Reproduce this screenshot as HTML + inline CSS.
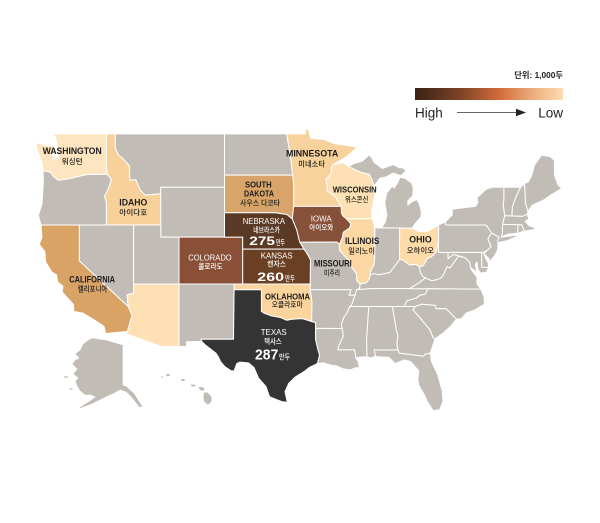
<!DOCTYPE html>
<html><head><meta charset="utf-8">
<style>
html,body{margin:0;padding:0;background:#fff;width:600px;height:523px;overflow:hidden}
svg{display:block}
text{font-family:"Liberation Sans","Noto Sans CJK KR",sans-serif}
.k{font-size:7.6px;font-weight:500}
.e{font-weight:700}
.n{font-weight:400}
.d{fill:#1c1c1c}
.w{fill:#ffffff}
</style></head><body>
<svg id="m" width="600" height="523" viewBox="0 0 600 523" xmlns="http://www.w3.org/2000/svg">
<defs>
<linearGradient id="g" x1="0" x2="1" y1="0" y2="0">
<stop offset="0" stop-color="#3a2214"/>
<stop offset="0.3" stop-color="#7b4226"/>
<stop offset="0.57" stop-color="#d26c3a"/>
<stop offset="0.8" stop-color="#ecae7e"/>
<stop offset="1" stop-color="#fcddb0"/>
</linearGradient>
</defs>
<g id="st" stroke="#fff" stroke-width="1" stroke-linejoin="round"></g>
<g fill="#c2bcb6" stroke="#fff" stroke-width="0.6">
<path d="M88,340L92,338L106,340L123,345L123,385L126,386L134,393L143,407L139,407L132,398L126,392L120,390L115,393L108,396L100,400L92,404L84,407L79,409L80,407L88,402L95,397L91,395L85,395L80,391L77,386L75,381L78,378L73,374L77,369L72,364L75,360L79,358L75,354L80,350L83,344Z"/>
<ellipse cx="66" cy="377" rx="2.5" ry="1"/>
<ellipse cx="71" cy="389" rx="2" ry="1"/>
<ellipse cx="162" cy="377" rx="1.3" ry="1"/>
<ellipse cx="168" cy="375" rx="2" ry="1.6"/>
<ellipse cx="183" cy="380" rx="2.2" ry="1.4"/>
<path d="M190,384L195,384.5L197,386L192,387Z"/>
<path d="M198,387L202,386.5L205,388.5L204,391L200,390.5Z"/>
<path d="M204,392L208,392.5L212,397L211.5,402L208,405L204,402L203,397Z"/>
</g>

<!-- legend -->
<text x="563" y="78" text-anchor="end" font-size="8.3" font-weight="700" fill="#222">단위: 1,000두</text>
<rect x="415" y="88" width="148" height="12" fill="url(#g)"/>
<text x="415" y="117.5" font-size="13.5" fill="#222">High</text>
<text x="563" y="117.5" text-anchor="end" font-size="13.5" fill="#222">Low</text>
<line x1="457" y1="112.5" x2="517" y2="112.5" stroke="#333" stroke-width="0.8"/>
<path d="M516,108.7L526,112.5L516,116.3Z" fill="#222"/>

<!-- dark labels -->
<text class="e d" x="42.7" y="154" font-size="9" textLength="59" lengthAdjust="spacingAndGlyphs">WASHINGTON</text>
<text class="k d" x="61.7" y="164.2" textLength="21" lengthAdjust="spacingAndGlyphs">워싱턴</text>
<text class="e d" x="119.3" y="205.7" font-size="9" textLength="28" lengthAdjust="spacingAndGlyphs">IDAHO</text>
<text class="k d" x="119.3" y="215" textLength="28" lengthAdjust="spacingAndGlyphs">아이다호</text>
<text class="e d" x="286" y="156.7" font-size="9" textLength="52.3" lengthAdjust="spacingAndGlyphs">MINNESOTA</text>
<text class="k d" x="298.3" y="166.5" textLength="26.7" lengthAdjust="spacingAndGlyphs">미네소타</text>
<text class="e d" x="332.7" y="192.7" font-size="8" textLength="44" lengthAdjust="spacingAndGlyphs">WISCONSIN</text>
<text class="k d" x="345" y="202" textLength="23.3" lengthAdjust="spacingAndGlyphs">위스콘신</text>
<text class="e d" x="245" y="187.3" font-size="7.8" textLength="26.7" lengthAdjust="spacingAndGlyphs">SOUTH</text>
<text class="e d" x="244" y="196.7" font-size="7.8" textLength="30" lengthAdjust="spacingAndGlyphs">DAKOTA</text>
<text class="k d" x="240" y="205.5" textLength="40" lengthAdjust="spacingAndGlyphs">사우스 다코타</text>
<text class="e d" x="345" y="244" font-size="9" textLength="34.3" lengthAdjust="spacingAndGlyphs">ILLINOIS</text>
<text class="k d" x="348.3" y="253.3" textLength="26.7" lengthAdjust="spacingAndGlyphs">일리노이</text>
<text class="e d" x="409.3" y="242.7" font-size="9" textLength="22.4" lengthAdjust="spacingAndGlyphs">OHIO</text>
<text class="k d" x="406.7" y="252.8" textLength="27.3" lengthAdjust="spacingAndGlyphs">오하이오</text>
<text class="e d" x="314" y="266.7" font-size="8.8" textLength="37.7" lengthAdjust="spacingAndGlyphs">MISSOURI</text>
<text class="k d" x="324" y="275.3" textLength="16" lengthAdjust="spacingAndGlyphs">미주리</text>
<text class="e d" x="265" y="299.3" font-size="8.4" textLength="45" lengthAdjust="spacingAndGlyphs">OKLAHOMA</text>
<text class="k d" x="271.7" y="306.8" textLength="31" lengthAdjust="spacingAndGlyphs">오클라호마</text>
<text class="e d" x="69.3" y="282.3" font-size="8.8" textLength="45.7" lengthAdjust="spacingAndGlyphs">CALIFORNIA</text>
<text class="k d" x="77.7" y="291.3" textLength="29.6" lengthAdjust="spacingAndGlyphs">캘리포니아</text>

<!-- white labels -->
<text class="n w" x="242.7" y="224" font-size="8" textLength="42.3" lengthAdjust="spacingAndGlyphs">NEBRASKA</text>
<text class="k w" x="253.3" y="232.3" textLength="26.7" lengthAdjust="spacingAndGlyphs">네브라스카</text>
<text class="e w" x="249.3" y="245" font-size="12" textLength="25.7" lengthAdjust="spacingAndGlyphs">275</text>
<text class="k w" x="276" y="245" font-size="7" textLength="9" lengthAdjust="spacingAndGlyphs">만두</text>
<text class="n w" x="310.7" y="221.7" font-size="8" textLength="21" lengthAdjust="spacingAndGlyphs">IOWA</text>
<text class="k w" x="309.3" y="230" textLength="24" lengthAdjust="spacingAndGlyphs">아이오와</text>
<text class="n w" x="188.3" y="260.7" font-size="8" textLength="43.4" lengthAdjust="spacingAndGlyphs">COLORADO</text>
<text class="k w" x="198.3" y="268.8" textLength="24.4" lengthAdjust="spacingAndGlyphs">콜로라도</text>
<text class="n w" x="260.7" y="258.3" font-size="8" textLength="32" lengthAdjust="spacingAndGlyphs">KANSAS</text>
<text class="k w" x="267.3" y="266.3" textLength="18.7" lengthAdjust="spacingAndGlyphs">캔자스</text>
<text class="e w" x="257.3" y="281" font-size="12" textLength="26.7" lengthAdjust="spacingAndGlyphs">260</text>
<text class="k w" x="285" y="281" font-size="7" textLength="10" lengthAdjust="spacingAndGlyphs">만두</text>
<text class="n w" x="260.7" y="335" font-size="8" textLength="26" lengthAdjust="spacingAndGlyphs">TEXAS</text>
<text class="k w" x="264.3" y="343.8" textLength="17.4" lengthAdjust="spacingAndGlyphs">텍사스</text>
<text class="e w" x="255" y="359.3" font-size="15" textLength="23.3" lengthAdjust="spacingAndGlyphs">287</text>
<text class="k w" x="279" y="359.3" font-size="7.8" textLength="11" lengthAdjust="spacingAndGlyphs">만두</text>
</svg>
<script>
(function(){
var X=function(l){return 224.5+9.1*(l+104.05);};
var Y=function(p){return 284-521.4*(Math.log(Math.tan(Math.PI/4+p*Math.PI/360))-0.696);};
var G='#c2bcb6';
var S=[
['#fde5bf',[[-124.72,48.38],[-123.6,48.15],[-122.75,48.1],[-122.95,47.1],[-122.35,47.3],[-122.4,48.0],[-122.6,48.75],[-123.0,49.0],[-117.03,49.0],[-117.03,46.42],[-116.92,46.0],[-118.98,46.0],[-119.6,45.92],[-121.2,45.65],[-122.3,45.55],[-122.8,45.8],[-123.2,46.18],[-124.0,46.27],[-124.1,46.9],[-124.7,47.9]]],
[G,[[-124.0,46.27],[-123.2,46.18],[-122.8,45.8],[-122.3,45.55],[-121.2,45.65],[-119.6,45.92],[-118.98,46.0],[-116.92,46.0],[-116.48,45.6],[-116.8,44.9],[-117.23,44.3],[-117.03,43.8],[-117.03,42.0],[-120.0,42.0],[-124.21,42.0],[-124.5,42.8],[-124.1,43.7],[-123.95,45.5]]],
['#d9a366',[[-124.21,42.0],[-120.0,42.0],[-120.0,39.0],[-114.63,35.0],[-114.2,34.2],[-114.72,32.72],[-117.12,32.53],[-117.3,33.2],[-118.3,33.75],[-118.9,34.05],[-119.6,34.4],[-120.6,34.55],[-120.65,35.2],[-121.9,36.3],[-121.8,36.8],[-122.4,37.2],[-122.5,37.8],[-123.0,38.0],[-123.7,38.9],[-123.8,39.8],[-124.4,40.4],[-124.1,41.0]]],
[G,[[-120.0,42.0],[-114.04,42.0],[-114.04,36.2],[-114.75,36.05],[-114.63,35.0],[-120.0,39.0]]],
['#f8d09a',[[-117.03,49.0],[-116.05,49.0],[-116.05,47.98],[-115.7,47.45],[-115.3,47.25],[-114.5,46.65],[-114.45,45.55],[-113.8,45.6],[-113.3,44.8],[-112.8,44.4],[-111.05,44.5],[-111.05,42.0],[-117.03,42.0],[-117.03,43.8],[-117.23,44.3],[-116.8,44.9],[-116.48,45.6],[-116.92,46.0],[-117.03,46.42]]],
[G,[[-116.05,49.0],[-104.05,49.0],[-104.05,45.0],[-111.05,45.0],[-111.05,44.5],[-112.8,44.4],[-113.3,44.8],[-113.8,45.6],[-114.45,45.55],[-114.5,46.65],[-115.3,47.25],[-115.7,47.45],[-116.05,47.98]]],
[G,[[-111.05,45.0],[-104.05,45.0],[-104.05,41.0],[-111.05,41.0]]],
[G,[[-114.04,42.0],[-111.05,42.0],[-111.05,41.0],[-109.05,41.0],[-109.05,37.0],[-114.04,37.0]]],
['#fde0b4',[[-114.04,37.0],[-109.05,37.0],[-109.05,31.33],[-111.07,31.33],[-114.82,32.5],[-114.72,32.72],[-114.2,34.2],[-114.63,35.0],[-114.75,36.05],[-114.04,36.2]]],
['#8a4f37',[[-109.05,41.0],[-102.05,41.0],[-102.05,37.0],[-109.05,37.0]]],
[G,[[-109.05,37.0],[-103.0,37.0],[-103.0,36.5],[-103.06,32.0],[-106.62,32.0],[-106.53,31.78],[-108.21,31.78],[-108.21,31.33],[-109.05,31.33]]],
[G,[[-104.05,49.0],[-97.23,49.0],[-96.85,47.6],[-96.56,45.94],[-104.05,45.94]]],
['#d9a46a',[[-104.05,45.94],[-96.56,45.94],[-96.45,45.3],[-96.45,43.5],[-96.6,42.5],[-97.2,42.85],[-98.5,43.0],[-104.05,43.0]]],
['#5b3a25',[[-104.05,43.0],[-98.5,43.0],[-97.2,42.85],[-96.6,42.5],[-96.1,41.6],[-95.85,40.8],[-95.3,40.0],[-102.05,40.0],[-102.05,41.0],[-104.05,41.0]]],
['#6b3f23',[[-102.05,40.0],[-95.3,40.0],[-94.95,39.6],[-94.6,39.1],[-94.62,37.0],[-102.05,37.0]]],
['#fbd59d',[[-103.0,37.0],[-94.62,37.0],[-94.62,36.5],[-94.43,35.4],[-94.48,33.64],[-95.5,33.9],[-96.6,33.85],[-97.2,33.75],[-97.9,34.0],[-98.9,34.15],[-99.7,34.4],[-100.0,34.56],[-100.0,36.5],[-103.0,36.5]]],
['#343434',[[-103.0,36.5],[-100.0,36.5],[-100.0,34.56],[-99.7,34.4],[-98.9,34.15],[-97.9,34.0],[-97.2,33.75],[-96.6,33.85],[-95.5,33.9],[-94.48,33.64],[-94.04,33.55],[-94.04,32.0],[-93.83,31.2],[-93.6,30.5],[-93.84,29.7],[-94.7,29.35],[-95.2,29.0],[-96.3,28.4],[-97.0,27.8],[-97.4,27.0],[-97.15,25.95],[-97.7,26.0],[-98.3,26.2],[-99.1,26.5],[-99.5,27.5],[-100.3,28.3],[-100.8,29.3],[-101.4,29.77],[-102.35,29.85],[-102.7,29.7],[-103.0,29.0],[-103.3,29.0],[-104.0,29.4],[-104.5,29.9],[-104.7,30.3],[-105.0,30.7],[-105.6,31.1],[-106.2,31.5],[-106.53,31.78],[-106.62,32.0],[-103.06,32.0]]],
['#f8d29c',[[-97.23,49.0],[-95.15,49.0],[-95.15,49.38],[-94.8,49.3],[-94.6,48.7],[-93.1,48.6],[-92.0,48.3],[-90.0,48.1],[-89.5,48.0],[-90.7,47.3],[-92.1,46.75],[-92.3,46.5],[-92.3,46.1],[-92.9,45.6],[-92.75,45.1],[-92.8,44.75],[-91.9,44.3],[-91.22,43.5],[-96.45,43.5],[-96.45,45.3],[-96.56,45.94],[-96.85,47.6]]],
['#875038',[[-96.45,43.5],[-91.22,43.5],[-91.2,43.0],[-91.05,42.75],[-90.65,42.5],[-90.15,42.1],[-90.3,41.75],[-91.0,41.4],[-91.1,40.95],[-91.42,40.38],[-91.7,40.6],[-95.77,40.58],[-95.85,40.8],[-96.1,41.6],[-96.6,42.5]]],
[G,[[-95.77,40.58],[-91.7,40.6],[-91.42,40.38],[-91.4,39.9],[-90.7,39.3],[-90.15,38.85],[-90.2,38.6],[-89.55,37.9],[-89.5,37.3],[-89.15,37.0],[-89.2,36.6],[-89.53,36.5],[-89.7,36.0],[-90.37,36.0],[-90.15,36.5],[-94.62,36.5],[-94.62,37.0],[-94.6,39.1],[-94.95,39.6],[-95.3,40.0]]],
['#fde0b3',[[-91.22,43.5],[-91.9,44.3],[-92.8,44.75],[-92.75,45.1],[-92.9,45.6],[-92.3,46.1],[-92.3,46.5],[-92.1,46.75],[-91.0,46.9],[-90.4,46.58],[-89.0,46.15],[-88.1,46.0],[-87.8,45.5],[-87.6,45.1],[-88.0,44.55],[-87.6,44.85],[-87.0,45.3],[-87.45,44.6],[-87.7,43.9],[-87.9,43.0],[-87.8,42.5],[-90.65,42.5],[-91.05,42.75],[-91.2,43.0]]],
['#fbd8a3',[[-90.65,42.5],[-87.8,42.5],[-87.55,41.7],[-87.53,39.35],[-87.6,38.7],[-87.9,38.3],[-88.05,37.8],[-88.1,37.5],[-88.45,37.1],[-89.15,37.0],[-89.5,37.3],[-89.55,37.9],[-90.2,38.6],[-90.15,38.85],[-90.7,39.3],[-91.4,39.9],[-91.42,40.38],[-91.1,40.95],[-91.0,41.4],[-90.3,41.75],[-90.15,42.1]]],
[G,[[-87.53,41.76],[-84.8,41.76],[-84.82,39.1],[-85.2,38.7],[-85.9,38.0],[-86.5,37.9],[-87.1,37.8],[-87.6,37.9],[-88.05,37.8],[-87.9,38.3],[-87.6,38.7],[-87.53,39.35]]],
['#fddcaa',[[-84.8,41.76],[-83.45,41.73],[-82.7,41.45],[-81.7,41.5],[-80.52,41.98],[-80.52,40.64],[-80.6,40.4],[-80.8,39.75],[-81.3,39.35],[-81.75,39.2],[-82.2,38.6],[-82.6,38.45],[-83.0,38.7],[-83.7,38.65],[-84.3,38.98],[-84.5,39.1],[-84.82,39.1]]],
[G,[[-86.8,41.76],[-84.8,41.76],[-83.45,41.73],[-83.1,42.1],[-82.5,42.6],[-82.4,43.0],[-82.6,43.6],[-82.9,44.05],[-83.4,43.9],[-83.9,43.6],[-83.9,43.95],[-83.35,44.35],[-83.3,45.0],[-83.5,45.35],[-84.2,45.7],[-84.75,45.78],[-85.0,45.4],[-85.4,44.95],[-85.6,45.1],[-86.2,44.6],[-86.45,43.8],[-86.2,42.8],[-86.4,42.2]]],
[G,[[-90.4,46.58],[-89.9,46.8],[-88.9,47.0],[-88.2,47.45],[-87.9,47.3],[-87.6,46.9],[-86.7,46.45],[-85.5,46.75],[-84.8,46.5],[-84.4,46.5],[-84.1,46.25],[-84.7,45.9],[-85.5,46.1],[-86.3,45.8],[-87.0,45.7],[-87.6,45.1],[-87.8,45.5],[-88.1,46.0],[-89.0,46.15]]],
[G,[[-89.53,36.5],[-89.2,36.6],[-89.15,37.0],[-88.45,37.1],[-88.1,37.5],[-88.05,37.8],[-87.6,37.9],[-87.1,37.8],[-86.5,37.9],[-85.9,38.0],[-85.2,38.7],[-84.82,39.1],[-84.5,39.1],[-84.3,38.98],[-83.7,38.65],[-83.0,38.7],[-82.6,38.45],[-82.6,38.2],[-82.3,37.7],[-81.97,37.54],[-82.5,37.2],[-83.68,36.6],[-88.05,36.6]]],
[G,[[-89.53,36.5],[-88.05,36.6],[-83.68,36.6],[-81.68,36.59],[-82.0,36.1],[-82.6,36.0],[-83.0,35.75],[-84.0,35.5],[-84.32,35.0],[-90.3,35.0],[-90.1,35.1],[-89.9,35.6],[-89.7,36.0]]],
[G,[[-83.68,36.6],[-81.68,36.59],[-75.87,36.55],[-76.3,37.0],[-76.3,37.6],[-76.9,38.2],[-77.0,38.4],[-77.1,38.9],[-77.5,39.2],[-77.75,39.32],[-78.35,39.4],[-78.8,38.9],[-79.3,38.4],[-79.6,38.5],[-80.0,37.8],[-80.3,37.5],[-80.9,37.35],[-81.3,37.3],[-81.97,37.54],[-82.5,37.2]]],
[G,[[-81.97,37.54],[-82.3,37.7],[-82.6,38.2],[-82.6,38.45],[-82.2,38.6],[-81.75,39.2],[-81.3,39.35],[-80.8,39.75],[-80.6,40.4],[-80.52,40.64],[-80.52,39.72],[-79.48,39.72],[-79.48,39.2],[-78.9,39.55],[-77.75,39.32],[-78.35,39.4],[-78.8,38.9],[-79.3,38.4],[-79.6,38.5],[-80.0,37.8],[-80.3,37.5],[-80.9,37.35],[-81.3,37.3]]],
[G,[[-79.48,39.72],[-75.79,39.72],[-75.79,38.45],[-75.05,38.45],[-75.25,38.03],[-75.9,37.95],[-76.2,38.3],[-76.3,38.9],[-76.5,38.7],[-76.3,38.05],[-77.0,38.4],[-77.1,38.9],[-77.5,39.2],[-77.75,39.32],[-78.9,39.55],[-79.48,39.2]]],
[G,[[-75.79,39.72],[-75.4,39.8],[-75.55,39.6],[-75.4,39.3],[-75.05,38.8],[-75.05,38.45],[-75.79,38.45]]],
[G,[[-80.52,42.0],[-79.76,42.27],[-79.76,42.0],[-75.35,42.0],[-75.1,41.8],[-74.7,41.35],[-75.1,40.85],[-74.75,40.2],[-75.1,39.95],[-75.4,39.8],[-75.79,39.72],[-80.52,39.72]]],
[G,[[-74.7,41.35],[-73.9,41.0],[-74.0,40.7],[-74.0,40.4],[-74.05,39.9],[-74.4,39.4],[-74.9,38.93],[-75.0,39.2],[-75.55,39.6],[-75.1,39.95],[-74.75,40.2],[-75.1,40.85]]],
[G,[[-79.76,42.0],[-79.76,42.27],[-79.0,42.85],[-79.05,43.27],[-78.0,43.37],[-76.5,43.5],[-76.2,43.8],[-76.3,44.2],[-75.3,44.85],[-74.7,45.0],[-73.35,45.0],[-73.35,44.0],[-73.42,43.6],[-73.25,42.75],[-73.5,42.05],[-73.5,41.3],[-73.65,41.0],[-72.0,41.15],[-71.87,41.07],[-73.0,40.7],[-74.0,40.55],[-74.05,40.65],[-73.9,41.0],[-74.7,41.35],[-75.1,41.8],[-75.35,42.0]]],
[G,[[-73.35,45.0],[-71.5,45.01],[-72.0,44.3],[-72.4,43.5],[-72.46,42.73],[-73.25,42.75],[-73.42,43.6],[-73.35,44.0]]],
[G,[[-71.5,45.01],[-71.08,45.3],[-71.0,44.3],[-70.98,43.8],[-70.7,43.1],[-70.8,42.87],[-71.3,42.7],[-72.46,42.73],[-72.4,43.5],[-72.0,44.3]]],
[G,[[-71.08,45.3],[-70.7,45.4],[-70.3,45.9],[-70.0,46.7],[-69.2,47.45],[-68.3,47.35],[-67.8,47.07],[-67.78,45.9],[-67.4,45.2],[-67.0,44.9],[-68.2,44.4],[-69.0,44.0],[-70.2,43.6],[-70.7,43.1],[-70.98,43.8],[-71.0,44.3]]],
[G,[[-73.5,42.05],[-73.25,42.75],[-72.46,42.73],[-71.3,42.7],[-70.8,42.87],[-70.6,42.5],[-71.0,42.3],[-70.6,41.95],[-70.0,41.8],[-70.0,42.05],[-69.95,41.65],[-70.6,41.55],[-71.12,41.5],[-71.38,42.02],[-71.8,42.02]]],
[G,[[-71.8,42.02],[-71.38,42.02],[-71.12,41.5],[-71.85,41.32]]],
[G,[[-73.5,42.05],[-71.8,42.02],[-71.85,41.32],[-72.9,41.25],[-73.65,41.0],[-73.5,41.3]]],
[G,[[-84.32,35.0],[-84.0,35.5],[-83.0,35.75],[-82.6,36.0],[-82.0,36.1],[-81.68,36.59],[-75.87,36.55],[-75.5,35.8],[-75.5,35.2],[-76.5,34.7],[-77.5,34.4],[-78.0,33.9],[-78.55,33.85],[-79.7,34.8],[-80.8,34.8],[-80.9,35.1],[-82.4,35.2],[-83.1,35.0]]],
[G,[[-78.55,33.85],[-79.2,33.2],[-80.0,32.6],[-80.9,32.05],[-81.1,32.1],[-81.5,32.9],[-82.2,33.6],[-82.6,34.0],[-83.35,34.7],[-83.1,35.0],[-82.4,35.2],[-80.9,35.1],[-80.8,34.8],[-79.7,34.8]]],
[G,[[-85.6,35.0],[-84.32,35.0],[-83.1,35.0],[-83.35,34.7],[-82.6,34.0],[-82.2,33.6],[-81.5,32.9],[-81.1,32.1],[-80.9,32.05],[-81.45,30.7],[-82.0,30.6],[-82.2,30.4],[-84.86,30.7],[-85.0,31.0],[-85.1,31.6],[-85.0,32.3],[-85.18,32.9]]],
[G,[[-87.6,31.0],[-85.0,31.0],[-84.86,30.7],[-82.2,30.4],[-82.0,30.6],[-81.45,30.7],[-81.3,29.9],[-80.6,28.6],[-80.1,27.0],[-80.05,26.0],[-80.4,25.2],[-81.1,25.1],[-81.7,25.9],[-82.1,26.7],[-82.7,27.6],[-82.8,28.2],[-82.7,29.0],[-83.6,29.9],[-84.3,30.05],[-85.3,29.7],[-86.0,30.3],[-87.2,30.35],[-87.45,30.4],[-87.6,30.9]]],
[G,[[-88.2,35.0],[-85.6,35.0],[-85.18,32.9],[-85.0,32.3],[-85.1,31.6],[-85.0,31.0],[-87.6,31.0],[-87.6,30.9],[-87.45,30.4],[-88.0,30.25],[-88.4,30.35],[-88.45,31.9]]],
[G,[[-90.3,35.0],[-88.2,35.0],[-88.45,31.9],[-88.4,30.35],[-89.3,30.3],[-89.6,30.2],[-89.75,31.0],[-91.6,31.0],[-91.5,31.4],[-91.0,32.3],[-91.1,32.9],[-91.2,33.4],[-90.95,34.0],[-90.6,34.4]]],
[G,[[-94.04,33.02],[-91.15,33.0],[-91.1,32.9],[-91.0,32.3],[-91.5,31.4],[-91.6,31.0],[-89.75,31.0],[-89.6,30.2],[-89.4,30.0],[-89.2,29.3],[-89.7,29.3],[-90.2,29.1],[-91.0,29.2],[-91.8,29.5],[-92.3,29.55],[-93.2,29.78],[-93.84,29.7],[-93.6,30.5],[-93.83,31.2],[-94.04,32.0]]],
[G,[[-94.62,36.5],[-90.15,36.5],[-90.37,36.0],[-89.7,36.0],[-89.9,35.6],[-90.1,35.1],[-90.3,35.0],[-90.6,34.4],[-90.95,34.0],[-91.2,33.4],[-91.15,33.0],[-94.04,33.02],[-94.04,33.55],[-94.48,33.64],[-94.43,35.4]]]
];
var g=document.getElementById('st'),ns='http://www.w3.org/2000/svg';
for(var i=0;i<S.length;i++){
  var pts=S[i][1],d='';
  for(var j=0;j<pts.length;j++){d+=(j?'L':'M')+X(pts[j][0]).toFixed(1)+','+Y(pts[j][1]).toFixed(1);}
  d+='Z';
  var p=document.createElementNS(ns,'path');
  p.setAttribute('d',d);p.setAttribute('fill',S[i][0]);
  g.appendChild(p);
}
})();
</script>
</body></html>
